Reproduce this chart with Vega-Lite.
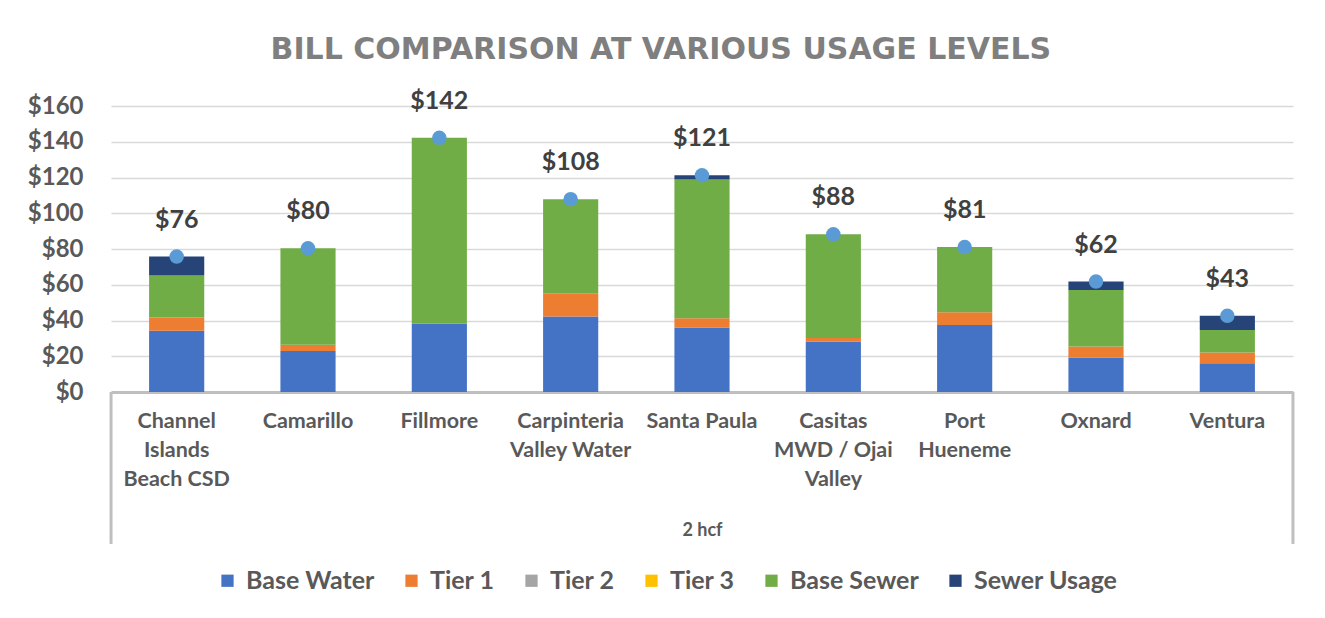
{
  "$schema": "https://vega.github.io/schema/vega-lite/v6.json",
  "autosize": "none",
  "width": 1182,
  "height": 286,
  "padding": {"left": 111, "top": 106, "right": 32, "bottom": 226},
  "background": "white",
  "config": {
    "font": "Lato",
    "view": {"stroke": null},
    "axis": {"labelFont": "Lato", "titleFont": "Lato"},
    "axisY": {
      "labelOverlap": false,
      "labelFontSize": 24,
      "labelFontWeight": "bold",
      "labelColor": "#595959",
      "labelPadding": 28,
      "ticks": false,
      "domain": false,
      "gridColor": "#d9d9d9",
      "gridWidth": 1.5
    },
    "legend": {"labelFont": "Lato"}
  },
  "title": {
    "text": "BILL COMPARISON AT VARIOUS USAGE LEVELS",
    "font": "DejaVu Sans",
    "fontSize": 30,
    "fontWeight": "bold",
    "color": "#7f7f7f",
    "anchor": "middle",
    "frame": "bounds",
    "offset": 24
  },
  "datasets": {
    "parts": [
      {"utility": "Channel Islands Beach CSD", "series": "Base Water", "amount": 34.3},
      {"utility": "Channel Islands Beach CSD", "series": "Tier 1", "amount": 7.4},
      {"utility": "Channel Islands Beach CSD", "series": "Tier 2", "amount": 0},
      {"utility": "Channel Islands Beach CSD", "series": "Tier 3", "amount": 0},
      {"utility": "Channel Islands Beach CSD", "series": "Base Sewer", "amount": 23.5},
      {"utility": "Channel Islands Beach CSD", "series": "Sewer Usage", "amount": 10.6},
      {"utility": "Camarillo", "series": "Base Water", "amount": 23},
      {"utility": "Camarillo", "series": "Tier 1", "amount": 3.4},
      {"utility": "Camarillo", "series": "Tier 2", "amount": 0},
      {"utility": "Camarillo", "series": "Tier 3", "amount": 0},
      {"utility": "Camarillo", "series": "Base Sewer", "amount": 54},
      {"utility": "Camarillo", "series": "Sewer Usage", "amount": 0},
      {"utility": "Fillmore", "series": "Base Water", "amount": 38.2},
      {"utility": "Fillmore", "series": "Tier 1", "amount": 0},
      {"utility": "Fillmore", "series": "Tier 2", "amount": 0},
      {"utility": "Fillmore", "series": "Tier 3", "amount": 0},
      {"utility": "Fillmore", "series": "Base Sewer", "amount": 104},
      {"utility": "Fillmore", "series": "Sewer Usage", "amount": 0},
      {"utility": "Carpinteria Valley Water", "series": "Base Water", "amount": 42.3},
      {"utility": "Carpinteria Valley Water", "series": "Tier 1", "amount": 12.9},
      {"utility": "Carpinteria Valley Water", "series": "Tier 2", "amount": 0},
      {"utility": "Carpinteria Valley Water", "series": "Tier 3", "amount": 0},
      {"utility": "Carpinteria Valley Water", "series": "Base Sewer", "amount": 52.7},
      {"utility": "Carpinteria Valley Water", "series": "Sewer Usage", "amount": 0},
      {"utility": "Santa Paula", "series": "Base Water", "amount": 36.1},
      {"utility": "Santa Paula", "series": "Tier 1", "amount": 5.1},
      {"utility": "Santa Paula", "series": "Tier 2", "amount": 0},
      {"utility": "Santa Paula", "series": "Tier 3", "amount": 0},
      {"utility": "Santa Paula", "series": "Base Sewer", "amount": 77.7},
      {"utility": "Santa Paula", "series": "Sewer Usage", "amount": 2.3},
      {"utility": "Casitas MWD / Ojai Valley", "series": "Base Water", "amount": 28.3},
      {"utility": "Casitas MWD / Ojai Valley", "series": "Tier 1", "amount": 1.9},
      {"utility": "Casitas MWD / Ojai Valley", "series": "Tier 2", "amount": 0},
      {"utility": "Casitas MWD / Ojai Valley", "series": "Tier 3", "amount": 0},
      {"utility": "Casitas MWD / Ojai Valley", "series": "Base Sewer", "amount": 58},
      {"utility": "Casitas MWD / Ojai Valley", "series": "Sewer Usage", "amount": 0},
      {"utility": "Port Hueneme", "series": "Base Water", "amount": 37.5},
      {"utility": "Port Hueneme", "series": "Tier 1", "amount": 7.1},
      {"utility": "Port Hueneme", "series": "Tier 2", "amount": 0},
      {"utility": "Port Hueneme", "series": "Tier 3", "amount": 0},
      {"utility": "Port Hueneme", "series": "Base Sewer", "amount": 36.5},
      {"utility": "Port Hueneme", "series": "Sewer Usage", "amount": 0},
      {"utility": "Oxnard", "series": "Base Water", "amount": 19.3},
      {"utility": "Oxnard", "series": "Tier 1", "amount": 6.2},
      {"utility": "Oxnard", "series": "Tier 2", "amount": 0},
      {"utility": "Oxnard", "series": "Tier 3", "amount": 0},
      {"utility": "Oxnard", "series": "Base Sewer", "amount": 31.6},
      {"utility": "Oxnard", "series": "Sewer Usage", "amount": 4.7},
      {"utility": "Ventura", "series": "Base Water", "amount": 16.1},
      {"utility": "Ventura", "series": "Tier 1", "amount": 6},
      {"utility": "Ventura", "series": "Tier 2", "amount": 0},
      {"utility": "Ventura", "series": "Tier 3", "amount": 0},
      {"utility": "Ventura", "series": "Base Sewer", "amount": 12.6},
      {"utility": "Ventura", "series": "Sewer Usage", "amount": 7.9}
    ],
    "totals": [
      {"utility": "Channel Islands Beach CSD", "total": 75.8},
      {"utility": "Camarillo", "total": 80.4},
      {"utility": "Fillmore", "total": 142.2},
      {"utility": "Carpinteria Valley Water", "total": 107.9},
      {"utility": "Santa Paula", "total": 121.2},
      {"utility": "Casitas MWD / Ojai Valley", "total": 88.2},
      {"utility": "Port Hueneme", "total": 81.1},
      {"utility": "Oxnard", "total": 61.8},
      {"utility": "Ventura", "total": 42.6}
    ],
    "leftEdge": [
      {"edge": "Channel Islands Beach CSD", "lo": 0, "hi": -85}
    ],
    "rightEdge": [
      {"edge": "Ventura", "lo": 0, "hi": -85}
    ]
  },
  "encoding": {
    "x": {
      "field": "utility",
      "type": "nominal",
      "sort": null,
      "scale": {
        "domain": ["Channel Islands Beach CSD", "Camarillo", "Fillmore", "Carpinteria Valley Water", "Santa Paula", "Casitas MWD / Ojai Valley", "Port Hueneme", "Oxnard", "Ventura"],
        "paddingInner": 0.58,
        "paddingOuter": 0.29
      },
      "axis": {
        "title": "2 hcf",
        "titleFontSize": 18,
        "titleFontWeight": "bold",
        "titleColor": "#595959",
        "titlePadding": 32,
        "labelAngle": 0,
        "labelFontSize": 21.5,
        "labelFontWeight": "bold",
        "labelColor": "#595959",
        "labelPadding": 18,
        "labelLineHeight": 29,
        "labelBaseline": "top",
        "labelLimit": 200,
        "ticks": false,
        "domainColor": "#bfbfbf",
        "domainWidth": 3,
        "labelExpr": "datum.value == 'Channel Islands Beach CSD' ? ['Channel', 'Islands', 'Beach CSD'] : datum.value == 'Carpinteria Valley Water' ? ['Carpinteria', 'Valley Water'] : datum.value == 'Casitas MWD / Ojai Valley' ? ['Casitas', 'MWD / Ojai', 'Valley'] : datum.value == 'Port Hueneme' ? ['Port', 'Hueneme'] : datum.value"
      }
    }
  },
  "layer": [
    {
      "data": {"name": "parts"},
      "transform": [
        {"calculate": "indexof(['Base Water', 'Tier 1', 'Tier 2', 'Tier 3', 'Base Sewer', 'Sewer Usage'], datum.series)", "as": "stackOrder"}
      ],
      "mark": {"type": "bar"},
      "encoding": {
        "y": {
          "field": "amount",
          "type": "quantitative",
          "stack": "zero",
          "scale": {"domain": [0, 160], "nice": false},
          "axis": {"title": null, "values": [0, 20, 40, 60, 80, 100, 120, 140, 160], "labelExpr": "'$' + datum.value"}
        },
        "order": {"field": "stackOrder", "type": "quantitative", "sort": "ascending"},
        "color": {
          "field": "series",
          "type": "nominal",
          "scale": {
            "domain": ["Base Water", "Tier 1", "Tier 2", "Tier 3", "Base Sewer", "Sewer Usage"],
            "range": ["#4472c4", "#ed7d31", "#a5a5a5", "#ffc000", "#70ad47", "#264478"]
          },
          "legend": {
            "title": null,
            "orient": "none",
            "legendX": 104,
            "legendY": 462,
            "direction": "horizontal",
            "padding": 0,
            "symbolType": "square",
            "symbolSize": 150,
            "symbolStrokeWidth": 0,
            "labelFontSize": 25,
            "labelFontWeight": "bold",
            "labelColor": "#595959",
            "labelOffset": 6,
            "columnPadding": 24
          }
        }
      }
    },
    {
      "data": {"name": "leftEdge"},
      "mark": {"type": "rule", "color": "#bfbfbf", "strokeWidth": 3},
      "encoding": {
        "x": {"field": "edge", "type": "nominal", "bandPosition": -0.69},
        "y": {"field": "lo", "type": "quantitative", "axis": {"title": null, "values": [0, 20, 40, 60, 80, 100, 120, 140, 160], "labelExpr": "'$' + datum.value"}},
        "y2": {"field": "hi"}
      }
    },
    {
      "data": {"name": "rightEdge"},
      "mark": {"type": "rule", "color": "#bfbfbf", "strokeWidth": 3},
      "encoding": {
        "x": {"field": "edge", "type": "nominal", "bandPosition": 1.69},
        "y": {"field": "lo", "type": "quantitative", "axis": {"title": null, "values": [0, 20, 40, 60, 80, 100, 120, 140, 160], "labelExpr": "'$' + datum.value"}},
        "y2": {"field": "hi"}
      }
    },
    {
      "data": {"name": "totals"},
      "mark": {"type": "circle", "size": 210, "opacity": 1, "color": "#5b9bd5"},
      "encoding": {
        "y": {"field": "total", "type": "quantitative", "axis": {"title": null, "values": [0, 20, 40, 60, 80, 100, 120, 140, 160], "labelExpr": "'$' + datum.value"}}
      }
    },
    {
      "data": {"name": "totals"},
      "mark": {"type": "text", "dy": -29, "baseline": "alphabetic", "fontSize": 25, "fontWeight": "bold", "color": "#404040"},
      "encoding": {
        "y": {"field": "total", "type": "quantitative", "axis": {"title": null, "values": [0, 20, 40, 60, 80, 100, 120, 140, 160], "labelExpr": "'$' + datum.value"}},
        "text": {"field": "total", "type": "quantitative", "format": "$.0f"}
      }
    }
  ]
}
